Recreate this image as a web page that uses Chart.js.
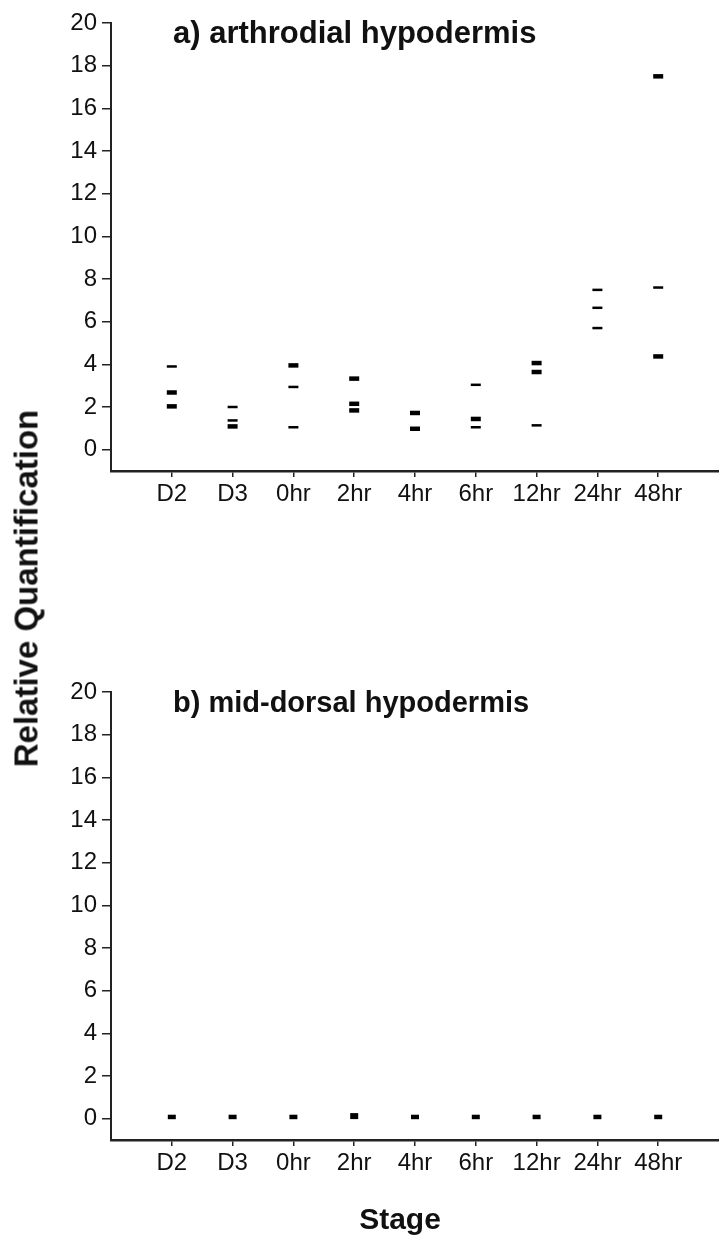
<!DOCTYPE html>
<html><head><meta charset="utf-8">
<script src="https://cdn.jsdelivr.net/npm/chart.js@4.4.1/dist/chart.umd.min.js"></script>
<style>
html,body{margin:0;padding:0;background:#fff;}
body{width:719px;height:1239px;position:relative;overflow:hidden;font-family:"Liberation Sans",Arial,sans-serif;}
canvas{position:absolute;left:0;}
#c1{top:0}
#c2{top:669px}
.lab{position:absolute;font-weight:bold;color:#111;white-space:nowrap;text-align:center;}
#ytitle{font-size:33px;line-height:33px;width:500px;left:-224px;top:572px;transform:rotate(-90deg);}
#xtitle{font-size:30px;line-height:30px;width:200px;left:300px;top:1204px;}
</style></head><body>
<canvas id="c1" width="719" height="520"></canvas>
<canvas id="c2" width="719" height="540"></canvas>
<div id="ytitle" class="lab">Relative Quantification</div>
<div id="xtitle" class="lab">Stage</div>
<script>
// ---- data ----
const stages = ['D2','D3','0hr','2hr','4hr','6hr','12hr','24hr','48hr'];
const yTickValues = [0,2,4,6,8,10,12,14,16,18,20];
const arthroRep1 = [3.90, 2.00, 3.95, 3.33, 1.72, 3.04, 4.06, 7.49, 17.50];
const arthroRep2 = [2.68, 1.37, 2.94, 2.15, 0.98, 1.44, 3.64, 6.65, 7.60];
const arthroRep3 = [2.03, 1.09, 1.05, 1.84, null, 1.05, 1.14, 5.70, 4.37];
const midDorsal  = [0.08, 0.08, 0.08, 0.12, 0.08, 0.08, 0.08, 0.08, 0.08];
const titleA = 'a) arthrodial hypodermis';
const titleB = 'b) mid-dorsal hypodermis';

// ---- style ----
const FAM = '"Liberation Sans", Arial, sans-serif';
const thickMarks = ['1:0','2:0','2:1','0:2','0:3','1:3','2:3','0:4','1:4','1:5','0:6','1:6','0:8','2:8'];

function toPoints(arr){ return arr.map((v,i)=>({x:i+1, y:v})); }

const panelTitle = {
  id:'panelTitle',
  afterDraw(chart, args, o){
    const {ctx, chartArea} = chart;
    ctx.save();
    ctx.font = o.font;
    ctx.fillStyle = '#111';
    ctx.textAlign = 'left';
    ctx.textBaseline = 'alphabetic';
    ctx.fillText(o.text, chartArea.left + o.dx, chartArea.top + o.dy);
    ctx.restore();
  }
};

function makeChart(id, datasets, title, titleFont, xHeight){
  return new Chart(document.getElementById(id), {
    type:'scatter',
    data:{datasets},
    plugins:[panelTitle],
    options:{
      responsive:false, animation:false, devicePixelRatio:1,
      layout:{autoPadding:false, padding:{top:23,left:0,right:0,bottom:0}},
      plugins:{
        legend:{display:false}, tooltip:{enabled:false},
        panelTitle:{text:title, font:titleFont, dx:62, dy:20}
      },
      scales:{
        x:{
          type:'linear', min:0, max:10,
          afterBuildTicks:s=>{ s.ticks = stages.map((_,i)=>({value:i+1})); },
          afterFit:s=>{ s.height = xHeight; s.paddingLeft = 0; s.paddingRight = 0; },
          ticks:{callback:(v,i)=>stages[i], font:{size:24,family:FAM}, color:'#111', padding:3, maxRotation:0, autoSkip:false},
          grid:{drawOnChartArea:false, drawTicks:true, tickLength:6, color:'#222', lineWidth:1.5},
          border:{display:true, color:'#222', width:2.5}
        },
        y:{
          type:'linear', min:-1, max:20,
          afterBuildTicks:s=>{ s.ticks = yTickValues.map(v=>({value:v})); },
          afterFit:s=>{ s.width = 111; },
          ticks:{font:{size:24,family:FAM}, color:'#111', padding:5},
          grid:{drawOnChartArea:false, drawTicks:true, tickLength:9, color:'#222', lineWidth:1.5},
          border:{display:true, color:'#222', width:2}
        }
      }
    }
  });
}

const markBase = {pointStyle:'line', borderColor:'#000', backgroundColor:'#000', pointRadius:5, pointHoverRadius:5, showLine:false};
const wA = ctx => thickMarks.includes(ctx.datasetIndex+':'+ctx.dataIndex) ? 4.5 : 2.5;

makeChart('c1', [
  Object.assign({label:'rep1', data:toPoints(arthroRep1), pointBorderWidth:wA}, markBase),
  Object.assign({label:'rep2', data:toPoints(arthroRep2), pointBorderWidth:wA}, markBase),
  Object.assign({label:'rep3', data:toPoints(arthroRep3), pointBorderWidth:wA}, markBase)
], titleA, 'bold 31px '+FAM, 49);

makeChart('c2', [
  Object.assign({}, markBase, {label:'mid-dorsal', data:toPoints(midDorsal), pointRadius:4, pointHoverRadius:4,
    pointBorderWidth:ctx => ctx.dataIndex===3 ? 6 : 4.5})
], titleB, 'bold 29px '+FAM, 69);
</script></body></html>
